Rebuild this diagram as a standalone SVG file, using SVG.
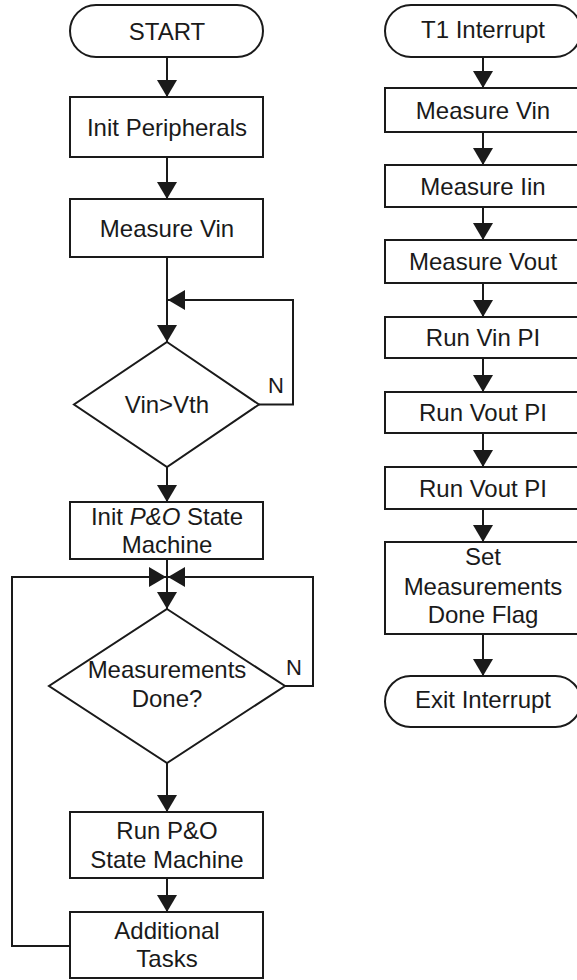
<svg xmlns="http://www.w3.org/2000/svg" width="577" height="980" viewBox="0 0 577 980">
<style>
.s{fill:#fff;stroke:#1a1a1a;stroke-width:2}
.c{fill:none;stroke:#1a1a1a;stroke-width:2}
.t{font-family:"Liberation Sans",Arial,sans-serif;font-size:24px;fill:#1a1a1a;text-anchor:middle}
.n{font-family:"Liberation Sans",Arial,sans-serif;font-size:22px;fill:#1a1a1a;text-anchor:middle}
</style>
<defs>
<marker id="ah" viewBox="0 0 17 20" refX="17" refY="10" markerWidth="17" markerHeight="20" markerUnits="userSpaceOnUse" orient="auto">
<path d="M0,0 L17,10 L0,20 z" fill="#1a1a1a"/>
</marker>
</defs>
<rect width="577" height="980" fill="#fff"/>
<g id="connectors">
<line class="c" x1="167" y1="57" x2="167" y2="97" marker-end="url(#ah)"/>
<line class="c" x1="167" y1="157" x2="167" y2="199" marker-end="url(#ah)"/>
<line class="c" x1="167" y1="257" x2="167" y2="342" marker-end="url(#ah)"/>
<polyline class="c" points="259,404.5 293,404.5 293,300 168,300" marker-end="url(#ah)"/>
<line class="c" x1="167" y1="467" x2="167" y2="502" marker-end="url(#ah)"/>
<line class="c" x1="167" y1="559" x2="167" y2="609" marker-end="url(#ah)"/>
<polyline class="c" points="285,686 313,686 313,577 168,577" marker-end="url(#ah)"/>
<polyline class="c" points="70,946 12,946 12,577 166,577" marker-end="url(#ah)"/>
<line class="c" x1="167" y1="763" x2="167" y2="812" marker-end="url(#ah)"/>
<line class="c" x1="167" y1="878" x2="167" y2="912" marker-end="url(#ah)"/>
<line class="c" x1="483" y1="57" x2="483" y2="88" marker-end="url(#ah)"/>
<line class="c" x1="483" y1="132" x2="483" y2="165" marker-end="url(#ah)"/>
<line class="c" x1="483" y1="207" x2="483" y2="240" marker-end="url(#ah)"/>
<line class="c" x1="483" y1="283" x2="483" y2="317" marker-end="url(#ah)"/>
<line class="c" x1="483" y1="358" x2="483" y2="392" marker-end="url(#ah)"/>
<line class="c" x1="483" y1="433" x2="483" y2="467" marker-end="url(#ah)"/>
<line class="c" x1="483" y1="509" x2="483" y2="542" marker-end="url(#ah)"/>
<line class="c" x1="483" y1="634" x2="483" y2="676" marker-end="url(#ah)"/>
</g>
<g id="start"><rect class="s" x="70" y="5" width="193" height="52" rx="26"/><text class="t" x="167" y="39.5">START</text></g>
<g id="init-peripherals"><rect class="s" x="70" y="97" width="193" height="60"/><text class="t" x="167" y="135.5">Init Peripherals</text></g>
<g id="measure-vin-main"><rect class="s" x="70" y="199" width="193" height="58"/><text class="t" x="167" y="236.5">Measure Vin</text></g>
<g id="vin-vth"><polygon class="s" points="167,342 259,404.5 167,467 74,404.5"/><text class="t" x="167" y="413">Vin&gt;Vth</text><text class="n" x="276" y="393">N</text></g>
<g id="init-po"><rect class="s" x="70" y="502" width="193" height="57"/><text class="t" x="167" y="525">Init <tspan font-style="italic">P&amp;O</tspan> State</text><text class="t" x="167" y="553">Machine</text></g>
<g id="meas-done"><polygon class="s" points="167,609 285,686 167,763 49,686"/><text class="t" x="167" y="678">Measurements</text><text class="t" x="167" y="707">Done?</text><text class="n" x="294" y="675">N</text></g>
<g id="run-po"><rect class="s" x="70" y="812" width="193" height="66"/><text class="t" x="167" y="839">Run P&amp;O</text><text class="t" x="167" y="868">State Machine</text></g>
<g id="additional"><rect class="s" x="70" y="912" width="193" height="66"/><text class="t" x="167" y="939">Additional</text><text class="t" x="167" y="967">Tasks</text></g>
<g id="t1"><rect class="s" x="385" y="5" width="196" height="52" rx="26"/><text class="t" x="483" y="38">T1 Interrupt</text></g>
<g id="r-vin"><rect class="s" x="385" y="88" width="196" height="44"/><text class="t" x="483" y="118.5">Measure Vin</text></g>
<g id="r-iin"><rect class="s" x="385" y="165" width="196" height="42"/><text class="t" x="483" y="194.5">Measure Iin</text></g>
<g id="r-vout"><rect class="s" x="385" y="240" width="196" height="43"/><text class="t" x="483" y="270">Measure Vout</text></g>
<g id="r-vinpi"><rect class="s" x="385" y="317" width="196" height="41"/><text class="t" x="483" y="346">Run Vin PI</text></g>
<g id="r-voutpi1"><rect class="s" x="385" y="392" width="196" height="41"/><text class="t" x="483" y="421">Run Vout PI</text></g>
<g id="r-voutpi2"><rect class="s" x="385" y="467" width="196" height="42"/><text class="t" x="483" y="496.5">Run Vout PI</text></g>
<g id="r-flag"><rect class="s" x="385" y="542" width="196" height="92"/><text class="t" x="483" y="565">Set</text><text class="t" x="483" y="595">Measurements</text><text class="t" x="483" y="623">Done Flag</text></g>
<g id="exit"><rect class="s" x="385" y="676" width="196" height="51" rx="25.5"/><text class="t" x="483" y="708">Exit Interrupt</text></g>
</svg>
